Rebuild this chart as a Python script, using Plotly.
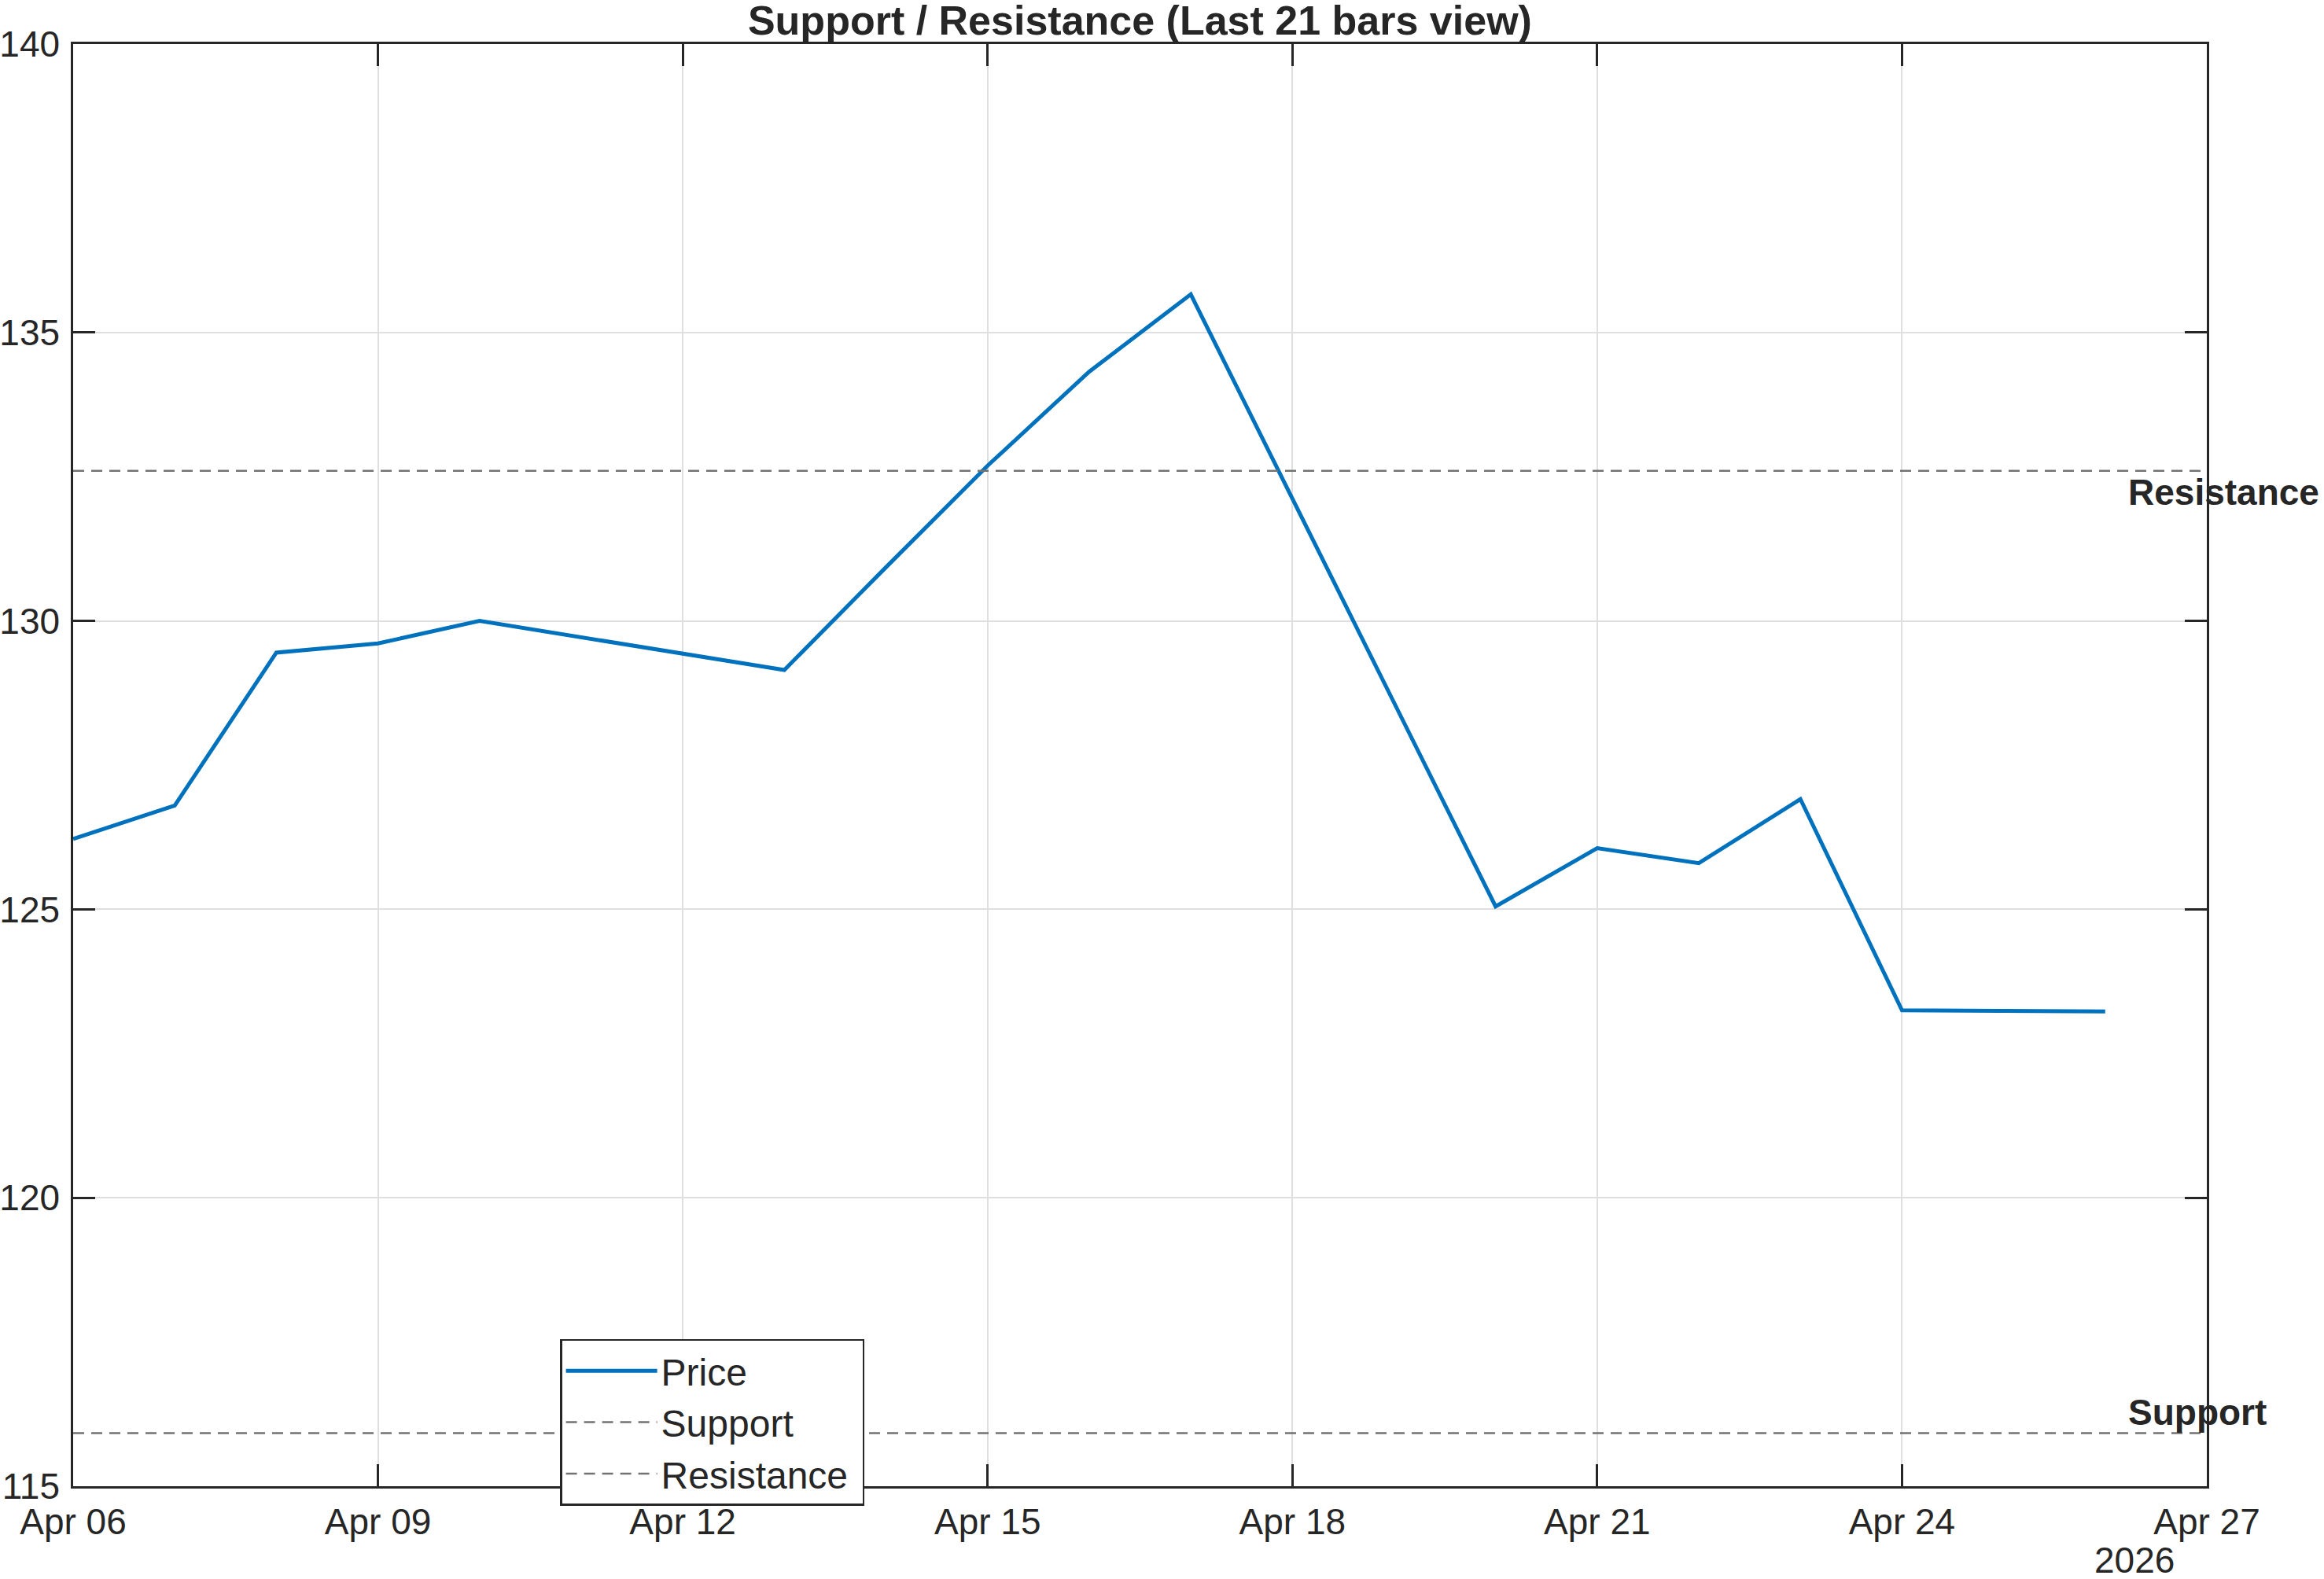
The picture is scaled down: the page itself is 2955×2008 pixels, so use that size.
import plotly.graph_objects as go

# ---- data ----
dates = ["2026-04-06", "2026-04-07", "2026-04-08", "2026-04-09", "2026-04-10",
         "2026-04-11", "2026-04-12", "2026-04-13", "2026-04-14", "2026-04-15",
         "2026-04-16", "2026-04-17", "2026-04-18", "2026-04-19", "2026-04-20",
         "2026-04-21", "2026-04-22", "2026-04-23", "2026-04-24", "2026-04-25",
         "2026-04-26"]
price = [126.22, 126.80, 129.45, 129.61, 130.00,
         129.72, 129.43, 129.15, 130.93, 132.69,
         134.32, 135.66, 132.12, 128.59, 125.05,
         126.06, 125.80, 126.91, 123.25, 123.24,
         123.23]
support_level = 115.92
resistance_level = 132.60
x_range = ["2026-04-06", "2026-04-27"]
x_tickvals = ["2026-04-06", "2026-04-09", "2026-04-12", "2026-04-15",
              "2026-04-18", "2026-04-21", "2026-04-24", "2026-04-27"]
x_ticktext = ["Apr 06", "Apr 09", "Apr 12", "Apr 15",
              "Apr 18", "Apr 21", "Apr 24", "Apr 27"]
y_tickvals = [115, 120, 125, 130, 135, 140]
year_label = "2026"
title_text = "Support / Resistance (Last 21 bars view)"

FONT = "Liberation Sans, Arial, Helvetica, sans-serif"
DARK = "#262626"
GRID = "#dfdfdf"
DASH_COLOR = "#737373"

fig = go.Figure()
fig.add_trace(go.Scatter(x=dates, y=price, mode="lines", name="Price",
                         line=dict(color="#0072BD", width=5)))
fig.add_trace(go.Scatter(x=x_range, y=[support_level] * 2, mode="lines",
                         name="Support",
                         line=dict(color=DASH_COLOR, width=2.5, dash="14px,9px")))
fig.add_trace(go.Scatter(x=x_range, y=[resistance_level] * 2, mode="lines",
                         name="Resistance&nbsp;",
                         line=dict(color=DASH_COLOR, width=2.5, dash="14px,9px")))

# level labels
fig.add_annotation(x=dates[-1], y=resistance_level, text="<b>Resistance</b>",
                   showarrow=False, xanchor="left", yanchor="middle",
                   xshift=27, yshift=-27,
                   font=dict(family=FONT, size=46, color=DARK))
fig.add_annotation(x=dates[-1], y=support_level, text="<b>Support</b>",
                   showarrow=False, xanchor="left", yanchor="middle",
                   xshift=27, yshift=27,
                   font=dict(family=FONT, size=46, color=DARK))
# year label under the date axis
fig.add_annotation(x=0.966, y=0, xref="paper", yref="paper", text=year_label,
                   showarrow=False, xanchor="center", yanchor="middle",
                   yshift=-94, font=dict(family=FONT, size=46, color=DARK))

axis_common = dict(showline=True, linecolor=DARK, linewidth=2.5, mirror="allticks",
                   ticks="inside", ticklen=28, tickwidth=2.5, tickcolor=DARK,
                   showgrid=True, gridcolor=GRID, gridwidth=2, zeroline=False,
                   automargin=False,
                   tickfont=dict(family=FONT, size=46, color=DARK))

fig.update_xaxes(type="date", range=x_range, tickmode="array",
                 tickvals=x_tickvals, ticktext=x_ticktext,
                 ticklabelstandoff=3, **axis_common)
fig.update_yaxes(range=[115, 140], tickmode="array", tickvals=y_tickvals,
                 ticklabelstandoff=5, **axis_common)

fig.update_layout(
    width=2955, height=2008,
    margin=dict(l=93, r=149, t=56, b=118, pad=0),
    paper_bgcolor="white", plot_bgcolor="white",
    title=dict(text="<b>" + title_text + "</b>", x=0.4905, xanchor="center",
               y=1 - 26 / 2008, yanchor="middle", yref="container",
               font=dict(family=FONT, size=52, color=DARK)),
    showlegend=True,
    legend=dict(x=0.2282, y=0.1020, xanchor="left", yanchor="top",
                bgcolor="white", bordercolor=DARK, borderwidth=2.5,
                font=dict(family=FONT, size=48, color=DARK),
                itemwidth=116, tracegroupgap=0),
)

fig.write_html("out.html")
